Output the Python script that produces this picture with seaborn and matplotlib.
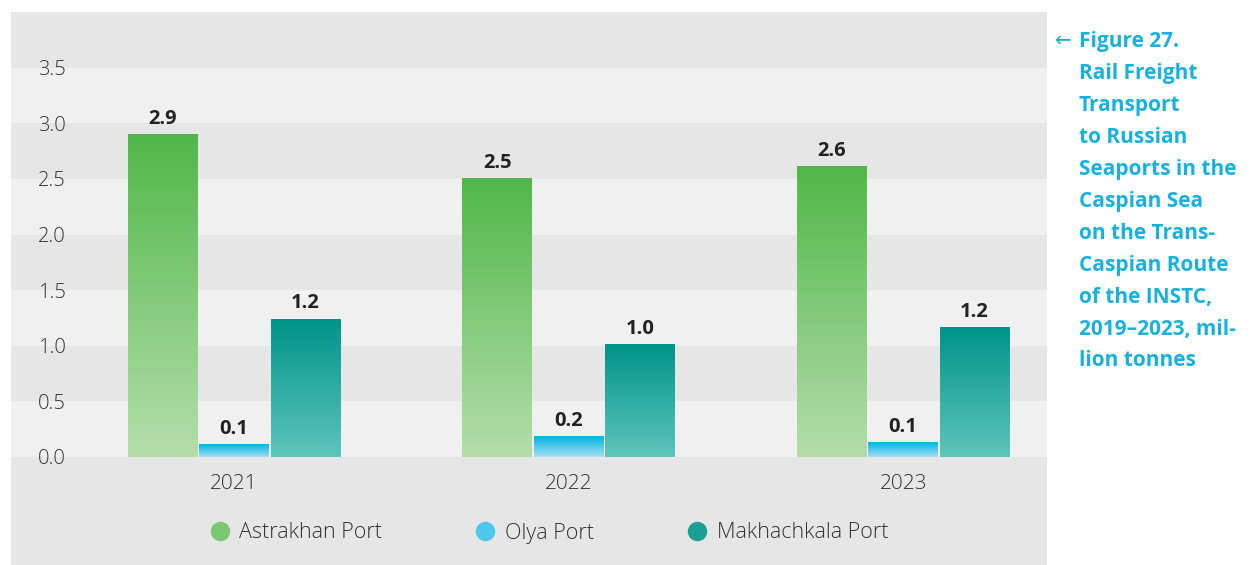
import numpy as np
import pandas as pd
import matplotlib
matplotlib.use("Agg")
import matplotlib.pyplot as plt
import seaborn as sns
from matplotlib.colors import LinearSegmentedColormap
from matplotlib.lines import Line2D
from matplotlib.patches import Rectangle

# --- data (million tonnes) ---
years = ["2021", "2022", "2023"]
ports = ["Astrakhan Port", "Olya Port", "Makhachkala Port"]
astrakhan = [2.90, 2.50, 2.61]
olya = [0.11, 0.18, 0.13]
makhachkala = [1.24, 1.01, 1.16]
yticks = [0.0, 0.5, 1.0, 1.5, 2.0, 2.5, 3.0, 3.5]
title_lines = [
    "Figure 27.",
    "Rail Freight",
    "Transport",
    "to Russian",
    "Seaports in the",
    "Caspian Sea",
    "on the Trans-",
    "Caspian Route",
    "of the INSTC,",
    "2019\u20132023, mil-",
    "lion tonnes",
]

df = pd.DataFrame({
    "year": years * 3,
    "port": np.repeat(ports, len(years)),
    "value": astrakhan + olya + makhachkala,
})

# gradient colours per port: (bottom, top)
grad = {
    "Astrakhan Port": ("#b5ddac", "#50b848"),
    "Olya Port": ("#a6def3", "#00b4e4"),
    "Makhachkala Port": ("#5ec5bd", "#009488"),
}
legend_col = {"Astrakhan Port": "#7cc872", "Olya Port": "#4cc8ec", "Makhachkala Port": "#1a9f94"}

sns.set_theme(style="white")
plt.rcParams["font.family"] = ["Open Sans", "DejaVu Sans"]

W, H = 1251, 565
fig = plt.figure(figsize=(W / 100, H / 100), dpi=100)
fig.patch.set_facecolor("white")
fig.patches.append(Rectangle((11 / W, 0), (1047 - 11) / W, 553 / H,
                             transform=fig.transFigure, facecolor="#e6e6e6",
                             edgecolor="none", zorder=-5))

ax = fig.add_axes([11 / W, 108 / H, 1036 / W, 445 / H])
ax.set_zorder(1)
ax.set_facecolor("#e6e6e6")

sns.barplot(data=df, x="year", y="value", hue="port", order=years,
            hue_order=ports, width=0.64, gap=0.02, ax=ax, legend=False,
            errorbar=None, zorder=3)

ramp = np.linspace(0, 1, 256).reshape(-1, 1)
for port, cont in zip(ports, ax.containers):
    cmap = LinearSegmentedColormap.from_list(port, list(grad[port]))
    for bar in cont:
        x0, w, h = bar.get_x(), bar.get_width(), bar.get_height()
        bar.set_facecolor("none")
        bar.set_edgecolor("none")
        ax.imshow(ramp, extent=[x0, x0 + w, 0, h], origin="lower",
                  aspect="auto", cmap=cmap, zorder=3)
    ax.bar_label(cont, labels=[f"{b.get_height():.1f}" for b in cont],
                 padding=4, fontsize=14.5, fontweight="bold", color="#222222")

# alternating horizontal bands
for lo in [0.0, 1.0, 2.0, 3.0]:
    ax.axhspan(lo, lo + 0.5, facecolor="#f0f0f0", edgecolor="none", zorder=0)

ax.set_xlim(-0.667, 2.43)
ax.set_ylim(0, 4.0)
ax.set_yticks(yticks)
ax.set_yticklabels([f"{t:.1f}" for t in yticks], fontweight="light")
ax.set_xticks(range(len(years)))
ax.set_xticklabels(years, fontweight="light")
ax.tick_params(axis="y", length=0, pad=-39.5, labelsize=14.5, labelcolor="#333333")
ax.tick_params(axis="x", length=0, pad=12, labelsize=15, labelcolor="#333333")
ax.set_xlabel("")
ax.set_ylabel("")
for s in ax.spines.values():
    s.set_visible(False)

handles = [Line2D([], [], marker="o", ls="", markersize=14,
                  markerfacecolor=legend_col[p], markeredgewidth=0) for p in ports]
leg = fig.legend(handles, ports, loc="center", bbox_to_anchor=(548.5 / W, 1 - 533 / H),
                 ncol=3, frameon=False, fontsize=15.5, columnspacing=4.3,
                 handletextpad=0.4, handlelength=1.0, labelcolor="#333333")
for t in leg.get_texts():
    t.set_fontweight("light")

# figure caption at right
cap_color = "#1ab0dc"
fig.text(1055 / W, 1 - 40 / H, "\u2190", color=cap_color, fontsize=14.5,
         va="center", ha="left", family=["DejaVu Sans"])
for i, line in enumerate(title_lines):
    fig.text(1079 / W, 1 - (41 + 32 * i) / H, line, color=cap_color,
             fontsize=15, fontweight="bold", va="center", ha="left")

fig.savefig("out.png", dpi=100)
